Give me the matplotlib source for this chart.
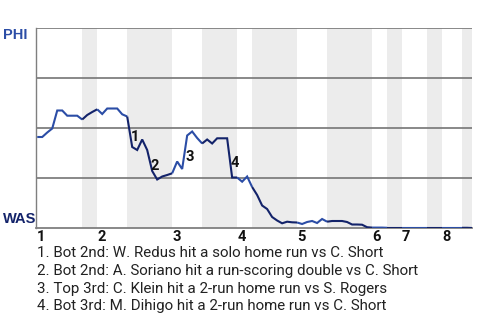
import matplotlib
matplotlib.use("Agg")
import matplotlib.pyplot as plt

# PHI win probability (%) after each event
wp = [45.5, 45.5, 47.75, 49.75, 58.75, 58.75, 56.15, 56.15, 56.15, 54.25,
      56.5, 58.0, 59.35, 57.0, 59.75, 59.75, 59.75, 56.85, 55.75, 40.5,
      39.0, 44.25, 39.0, 28.5, 24.25, 25.75, 26.5, 27.35, 33.25, 29.5,
      46.25, 48.25, 45.0, 42.25, 44.25, 42.25, 44.85, 44.85, 44.85, 25.25,
      25.25, 23.15, 25.75, 20.5, 16.5, 11.25, 9.5, 5.5, 3.75, 2.35,
      3.15, 2.85, 2.75, 2.0, 3.0, 3.5, 2.5, 4.5, 3.15, 3.5,
      3.5, 3.5, 3.0, 1.75, 1.75, 1.65, 0.4, 0.2, 0.2, 0.2,
      0.1, 0.1, 0.1, 0.1, 0.1, 0.1, 0.1, 0.1, 0.1, 0.1,
      0.1, 0.1, 0.1, 0.1, 0.1, 0.1, 0.1, 0.0]

# event index where each half-inning starts (top, bottom alternating)
half_starts = [0, 9, 12, 18, 27, 33, 40, 43, 52, 58, 67, 70, 73, 78, 81, 85]
last_index = 87
inning_labels = ["1", "2", "3", "4", "5", "6", "7", "8"]

# key events: index of the event's resulting point, label number
event_idx = [19, 23, 30, 39]
event_num = ["1", "2", "3", "4"]
event_text = [
    "1. Bot 2nd: W. Redus hit a solo home run vs C. Short",
    "2. Bot 2nd: A. Soriano hit a run-scoring double vs C. Short",
    "3. Top 3rd: C. Klein hit a 2-run home run vs S. Rogers",
    "4. Bot 3rd: M. Dihigo hit a 2-run home run vs C. Short",
]
team_top = "PHI"
team_bottom = "WAS"

BLUE = "#2b4da6"
NAVY = "#13236a"
SHADE = "#ececec"
GRID = "#7f7f7f"

plt.rcParams['font.family'] = ['Roboto', 'DejaVu Sans']

fig = plt.figure(figsize=(4.8, 3.2), dpi=100)
W, H = 480, 320
ax = fig.add_axes([36 / W, 1 - 228 / H, (472 - 36) / W, 200 / H])

x = list(range(len(wp)))
ends = half_starts[1:] + [last_index]
for i, (s, e) in enumerate(zip(half_starts, ends)):
    bottom = (i % 2 == 1)
    if bottom:
        ax.axvspan(s - 0.1, e - 0.1, color=SHADE, lw=0, zorder=0)
    ax.plot(x[s:e + 1], wp[s:e + 1], color=NAVY if bottom else BLUE,
            lw=1.5, solid_joinstyle='miter', solid_capstyle='butt', zorder=3)

ax.set_xlim(-0.25, 87)
ax.set_ylim(0, 100)
ax.set_yticks([25, 50, 75, 100])
ax.yaxis.grid(True, color=GRID, lw=1.3)
ax.set_axisbelow(True)
ax.tick_params(axis='y', left=False, labelleft=False)
for sp in ['top', 'right']:
    ax.spines[sp].set_visible(False)
ax.spines['left'].set_color(GRID)
ax.spines['left'].set_linewidth(1.0)
ax.spines['bottom'].set_color(GRID)
ax.spines['bottom'].set_linewidth(1.3)

top_starts = half_starts[0::2]
ax.set_xticks(top_starts)
ax.set_xticklabels(inning_labels, fontsize=10.5, fontweight='bold', color='#111111')
ax.tick_params(axis='x', length=0, pad=1.5)
for lab in ax.get_xticklabels():
    lab.set_horizontalalignment('left')

for k, n in zip(event_idx, event_num):
    xm = k - 0.5
    ym = (wp[k - 1] + wp[k]) / 2
    ax.annotate(n, xy=(xm, ym), xytext=(5, -5), textcoords='offset pixels',
                ha='center', va='center', fontsize=10.5, fontweight='bold',
                color='#111111', zorder=5)

fig.text(3 / W, 1 - 35 / H, team_top, ha='left', va='center', fontsize=10.5,
         fontweight='bold', color=BLUE, family=['Liberation Sans'])
fig.text(3 / W, 1 - 219 / H, team_bottom, ha='left', va='center', fontsize=10.5,
         fontweight='bold', color=NAVY, family=['Liberation Sans'])

for i, t in enumerate(event_text):
    fig.text(37 / W, 1 - (253.3 + 17.7 * i) / H, t, ha='left', va='center',
             fontsize=10.9, color='#222222')

fig.savefig("out.png", dpi=100)
